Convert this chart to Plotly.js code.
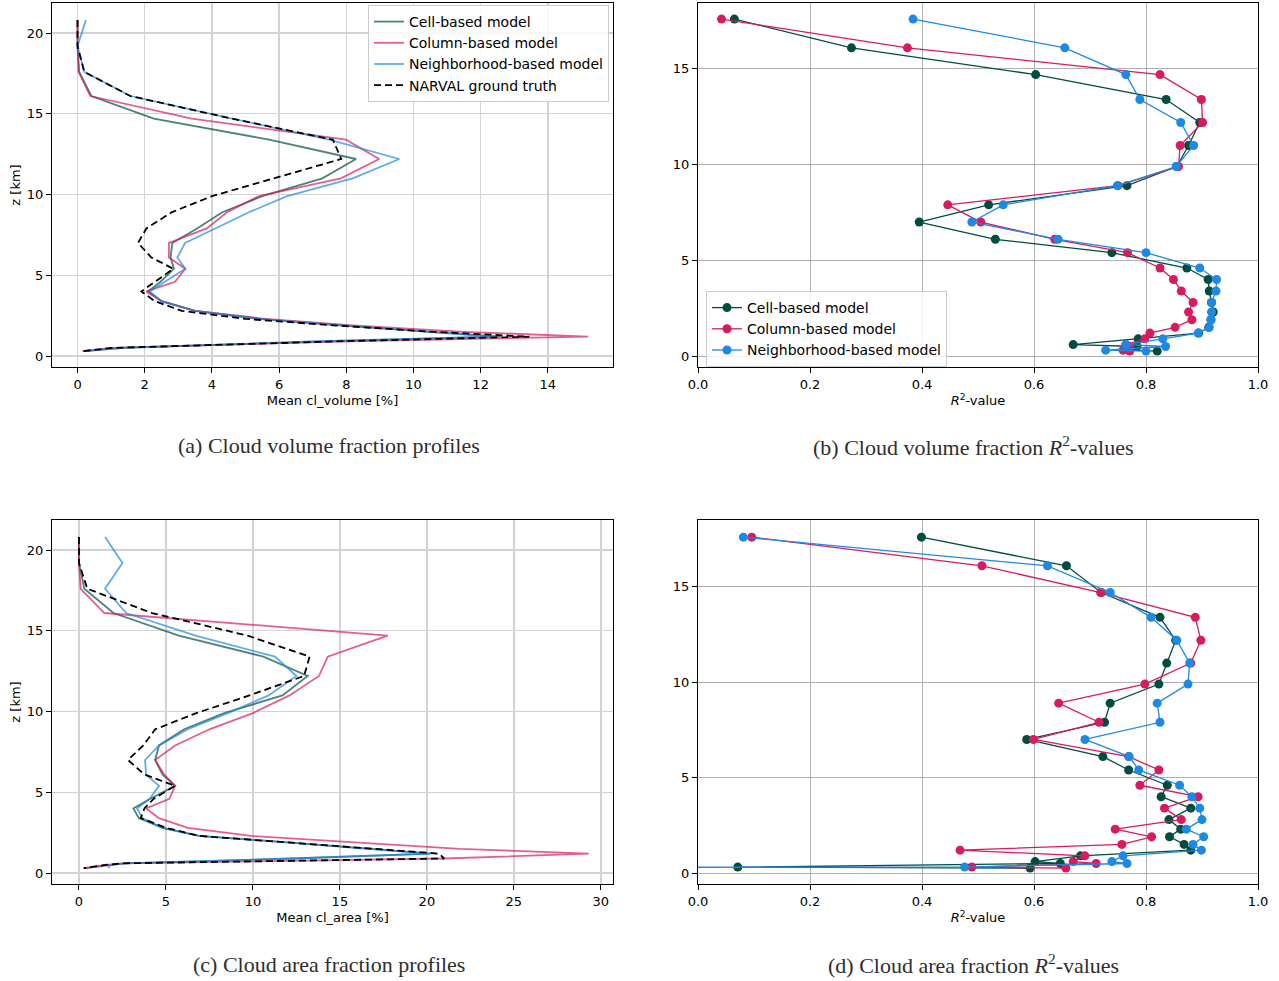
<!DOCTYPE html>
<html>
<head>
<meta charset="utf-8">
<script src="https://cdn.plot.ly/plotly-3.0.1.min.js"></script>
<style>html,body{margin:0;padding:0;background:#fff;}#chart{width:1279px;height:981px;}</style>
</head>
<body>
<div id="chart"></div>
<script>
// Height levels [km] of the mean profiles
const zProfile = [20.8, 19.2, 17.6, 16.1, 14.7, 13.4, 12.2, 11.0, 9.9, 8.9, 7.9, 7.0, 6.1, 5.4, 4.6, 4.0, 3.4, 2.8, 2.3, 1.9, 1.5, 1.2, 0.9, 0.6, 0.5, 0.3];
// (a) Mean cl_volume [%]
const volCell     = [0, 0, 0.05, 0.41, 2.27, 5.7, 8.29, 7.29, 5.5, 4.31, 3.56, 2.82, 2.77, 2.87, 2.47, 2.1, 2.5, 3.5, 5.4, 7.8, 10.5, 12.6, 7.2, 2.6, 1.4, 0.2];
const volColumn   = [0, 0, 0.03, 0.38, 3.4, 7.99, 8.98, 7.84, 5.4, 4.45, 3.85, 2.72, 2.72, 3.21, 2.9, 2.05, 2.5, 3.5, 5.6, 8.2, 11.5, 15.2, 7.8, 2.5, 1.0, 0.15];
const volNeigh    = [0.25, 0, 0.2, 1.57, 4.6, 7.49, 9.58, 8.19, 6.24, 5.1, 4.1, 3.2, 2.97, 3.21, 2.6, 2.15, 2.5, 3.5, 5.4, 7.9, 10.6, 12.3, 7.0, 2.5, 1.3, 0.2];
const volNarval   = [0, 0, 0.2, 1.57, 4.6, 7.6, 7.85, 5.8, 4.0, 2.8, 2.05, 1.8, 2.2, 2.85, 2.3, 1.9, 2.3, 3.1, 5.0, 7.6, 10.6, 13.45, 7.6, 2.4, 1.0, 0.15];
// (c) Mean cl_area [%]
const areaCell    = [0, 0, 0.31, 1.98, 5.74, 10.6, 13.15, 11.7, 8.35, 6.05, 4.6, 4.38, 4.8, 5.53, 4.1, 3.13, 3.44, 4.8, 6.9, 12.0, 16.9, 20.2, 12.3, 2.6, 1.8, 0.4];
const areaColumn  = [0, 0, 0.1, 1.46, 17.75, 14.3, 13.8, 12.1, 10.0, 7.5, 5.53, 4.38, 4.9, 5.53, 5.2, 3.86, 4.6, 6.26, 9.9, 15.7, 21.9, 29.3, 21.0, 2.5, 1.6, 0.27];
const areaNeigh   = [1.5, 2.5, 1.5, 2.71, 6.7, 11.27, 12.5, 10.9, 8.56, 6.26, 4.6, 3.8, 3.86, 4.6, 4.07, 3.34, 3.65, 4.8, 6.9, 12.0, 16.5, 20.2, 12.3, 2.6, 1.8, 1.7];
const areaNarval  = [0, 0, 0.48, 4.2, 9.7, 13.26, 12.94, 9.8, 6.74, 4.38, 3.7, 2.82, 3.76, 5.53, 4.3, 3.76, 3.55, 5.0, 6.9, 12.0, 16.6, 20.7, 21.0, 2.5, 1.5, 0.27];

// Height levels [km] of the R^2 values
const zR = [17.6, 16.1, 14.7, 13.4, 12.2, 11.0, 9.9, 8.9, 7.9, 7.0, 6.1, 5.4, 4.6, 4.0, 3.4, 2.8, 2.3, 1.9, 1.5, 1.2, 0.9, 0.6, 0.5, 0.31, 0.26];
// (b) cloud volume fraction R^2
const r2VolCell   = [0.065, 0.274, 0.603, 0.836, 0.896, 0.876, 0.855, 0.766, 0.519, 0.395, 0.531, 0.739, 0.873, 0.911, 0.913, 0.917, 0.92, 0.916, 0.912, 0.894, 0.786, 0.670, 0.784, 0.77, 0.82];
const r2VolColumn = [0.042, 0.374, 0.825, 0.899, 0.901, 0.861, 0.858, 0.75, 0.446, 0.505, 0.637, 0.767, 0.825, 0.849, 0.863, 0.884, 0.876, 0.882, 0.852, 0.807, 0.798, 0.764, 0.77, 0.759, 0.771];
const r2VolNeigh  = [0.384, 0.655, 0.764, 0.789, 0.862, 0.885, 0.854, 0.749, 0.545, 0.489, 0.643, 0.80, 0.896, 0.926, 0.925, 0.917, 0.917, 0.916, 0.913, 0.893, 0.83, 0.764, 0.835, 0.728, 0.80];
// (d) cloud area fraction R^2
const r2AreaCell   = [0.399, 0.658, 0.72, 0.825, 0.853, 0.837, 0.823, 0.736, 0.726, 0.587, 0.723, 0.769, 0.838, 0.827, 0.88, 0.841, 0.862, 0.842, 0.868, 0.88, 0.683, 0.602, 0.647, 0.071, 0.593];
const r2AreaColumn = [0.096, 0.507, 0.719, 0.888, 0.898, 0.88, 0.798, 0.644, 0.716, 0.599, 0.769, 0.823, 0.789, 0.893, 0.833, 0.863, 0.745, 0.81, 0.757, 0.468, 0.691, 0.67, 0.711, 0.489, 0.657];
const r2AreaNeigh  = [0.081, 0.624, 0.736, 0.809, 0.855, 0.878, 0.875, 0.82, 0.825, 0.691, 0.77, 0.787, 0.86, 0.882, 0.896, 0.9, 0.872, 0.903, 0.884, 0.899, 0.759, 0.739, 0.766, 0.476, -3.0];

const names = ['Cell-based model', 'Column-based model', 'Neighborhood-based model', 'NARVAL ground truth'];
const colors = ['#004D40', '#D81B60', '#1E88E5'];

const W = 1279, H = 981;
const px = v => v / W;
const py = v => 1 - v / H;

function profileTrace(x, i, xa, ya, legend, show) {
  return {x: x, y: zProfile, type: 'scatter', mode: 'lines', name: names[i],
    xaxis: xa, yaxis: ya, legend: legend, showlegend: show, opacity: 0.7,
    line: {color: colors[i], width: 1.8}};
}
function narvalTrace(x, xa, ya, legend, show) {
  return {x: x, y: zProfile, type: 'scatter', mode: 'lines', name: names[3],
    xaxis: xa, yaxis: ya, legend: legend, showlegend: show,
    line: {color: '#000000', width: 1.8, dash: '7px,4px'}};
}
function r2Trace(x, i, xa, ya, legend, show) {
  return {x: x, y: zR, type: 'scatter', mode: 'lines+markers', name: names[i],
    xaxis: xa, yaxis: ya, legend: legend, showlegend: show,
    line: {color: colors[i], width: 1.3}, marker: {color: colors[i], size: 9}};
}

const traces = [
  profileTrace(volCell, 0, 'x', 'y', 'legend', true),
  profileTrace(volColumn, 1, 'x', 'y', 'legend', true),
  profileTrace(volNeigh, 2, 'x', 'y', 'legend', true),
  narvalTrace(volNarval, 'x', 'y', 'legend', true),
  r2Trace(r2VolCell, 0, 'x2', 'y2', 'legend2', true),
  r2Trace(r2VolColumn, 1, 'x2', 'y2', 'legend2', true),
  r2Trace(r2VolNeigh, 2, 'x2', 'y2', 'legend2', true),
  profileTrace(areaCell, 0, 'x3', 'y3', 'legend', false),
  profileTrace(areaColumn, 1, 'x3', 'y3', 'legend', false),
  profileTrace(areaNeigh, 2, 'x3', 'y3', 'legend', false),
  narvalTrace(areaNarval, 'x3', 'y3', 'legend', false),
  r2Trace(r2AreaCell, 0, 'x4', 'y4', 'legend2', false),
  r2Trace(r2AreaColumn, 1, 'x4', 'y4', 'legend2', false),
  r2Trace(r2AreaNeigh, 2, 'x4', 'y4', 'legend2', false)
];

const base = {showline: true, mirror: true, linecolor: '#000', linewidth: 1,
  ticks: 'outside', ticklen: 5, tickwidth: 1, tickcolor: '#000',
  zeroline: false, automargin: false, showgrid: true,
  tickfont: {family: 'DejaVu Sans', size: 13, color: '#000'}};
const profGrid = {gridcolor: '#d3d3d3', gridwidth: 1.4};
const r2Grid = {gridcolor: '#b0b0b0', gridwidth: 1};
const titleFont = {family: 'DejaVu Sans', size: 13, color: '#000'};

const domTop = [py(367), py(3)];
const domBot = [py(884), py(520)];
const domL = [px(52), px(613)];
const domR = [px(698), px(1258)];

const layout = {
  width: W, height: H, margin: {l: 0, r: 0, t: 0, b: 0},
  paper_bgcolor: '#fff', plot_bgcolor: '#fff',
  font: {family: 'DejaVu Sans', size: 13, color: '#000'},
  xaxis: Object.assign({}, base, profGrid, {domain: domL, anchor: 'y', range: [-0.76, 15.94],
    tickvals: [0, 2, 4, 6, 8, 10, 12, 14],
    title: {text: 'Mean cl_volume [%]', font: titleFont, standoff: 5}}),
  yaxis: Object.assign({}, base, profGrid, {domain: domTop, anchor: 'x', range: [-0.68, 21.86],
    tickvals: [0, 5, 10, 15, 20],
    title: {text: 'z [km]', font: titleFont, standoff: 3}}),
  xaxis2: Object.assign({}, base, r2Grid, {domain: domR, anchor: 'y2', range: [0, 1],
    tickvals: [0, 0.2, 0.4, 0.6, 0.8, 1.0], tickformat: '.1f',
    title: {text: '<i>R</i><sup>2</sup>-value', font: titleFont, standoff: 5}}),
  yaxis2: Object.assign({}, base, r2Grid, {domain: domTop, anchor: 'x2', range: [-0.57, 18.44],
    tickvals: [0, 5, 10, 15]}),
  xaxis3: Object.assign({}, base, profGrid, {domain: domL, anchor: 'y3', range: [-1.55, 30.7],
    tickvals: [0, 5, 10, 15, 20, 25, 30],
    title: {text: 'Mean cl_area [%]', font: titleFont, standoff: 5}}),
  yaxis3: Object.assign({}, base, profGrid, {domain: domBot, anchor: 'x3', range: [-0.68, 21.86],
    tickvals: [0, 5, 10, 15, 20],
    title: {text: 'z [km]', font: titleFont, standoff: 3}}),
  xaxis4: Object.assign({}, base, r2Grid, {domain: domR, anchor: 'y4', range: [0, 1],
    tickvals: [0, 0.2, 0.4, 0.6, 0.8, 1.0], tickformat: '.1f',
    title: {text: '<i>R</i><sup>2</sup>-value', font: titleFont, standoff: 5}}),
  yaxis4: Object.assign({}, base, r2Grid, {domain: domBot, anchor: 'x4', range: [-0.575, 18.5],
    tickvals: [0, 5, 10, 15]}),
  legend: {x: px(368), y: py(5), xanchor: 'left', yanchor: 'top',
    bgcolor: 'rgba(255,255,255,0.85)', bordercolor: '#cccccc', borderwidth: 1,
    font: {family: 'DejaVu Sans', size: 14, color: '#000'}, itemwidth: 30},
  legend2: {x: px(706), y: py(291), xanchor: 'left', yanchor: 'top',
    bgcolor: 'rgba(255,255,255,0.85)', bordercolor: '#cccccc', borderwidth: 1,
    font: {family: 'DejaVu Sans', size: 14, color: '#000'}, itemwidth: 30},
  annotations: [
    {text: '(a) Cloud volume fraction profiles', x: px(328.5), y: py(446)},
    {text: '(b) Cloud volume fraction <i>R</i><sup>2</sup>-values', x: px(973), y: py(446)},
    {text: '(c) Cloud area fraction profiles', x: px(328.5), y: py(964)},
    {text: '(d) Cloud area fraction <i>R</i><sup>2</sup>-values', x: px(973), y: py(964)}
  ].map(a => Object.assign(a, {xref: 'paper', yref: 'paper', xanchor: 'center', yanchor: 'middle',
    showarrow: false, font: {family: 'Liberation Serif', size: 22, color: '#2e2e2e'}}))
};

Plotly.newPlot('chart', traces, layout, {displayModeBar: false, staticPlot: true});
</script>
</body>
</html>
